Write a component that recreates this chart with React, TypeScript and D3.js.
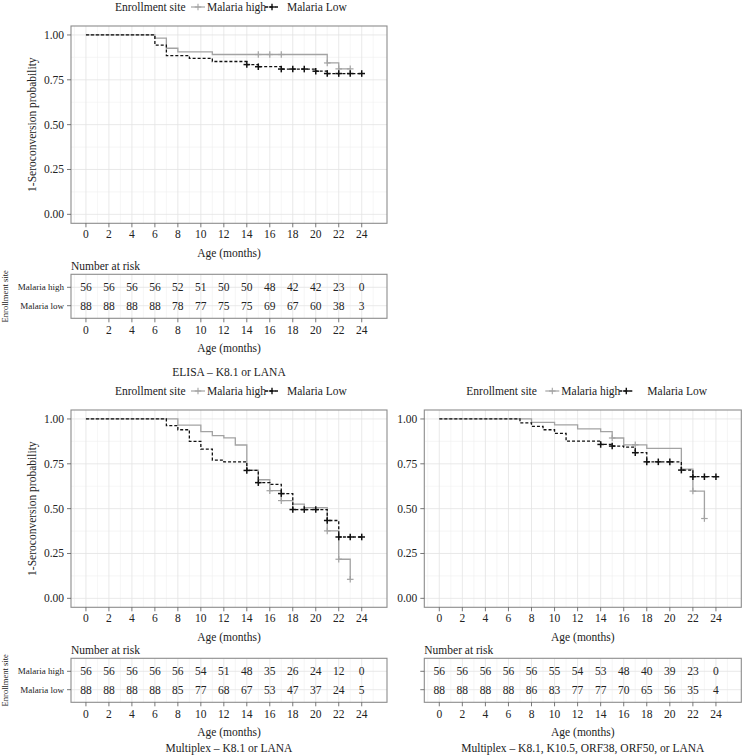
import React from "react";
import * as d3 from "d3";

// ---------- data ----------
const timeTicks = [0, 2, 4, 6, 8, 10, 12, 14, 16, 18, 20, 22, 24];
const survTicks = [0, 0.25, 0.5, 0.75, 1];
const groups = ["Malaria high", "Malaria low"];

// ELISA – K8.1 or LANA
const elisaHighTimes = [0, 6, 7, 8, 11, 21, 22, 23];
const elisaHighSurv = [1, 0.982, 0.926, 0.906, 0.891, 0.844, 0.811, 0.811];
const elisaHighCensor = [15, 16, 17, 21, 22, 23];
const elisaLowTimes = [0, 6, 7, 9, 11, 14, 15, 17, 20, 21, 24];
const elisaLowSurv = [1, 0.943, 0.885, 0.87, 0.852, 0.835, 0.823, 0.81, 0.798, 0.785, 0.785];
const elisaLowCensor = [14, 15, 17, 18, 19, 20, 21, 22, 23, 24];
const elisaRiskHigh = [56, 56, 56, 56, 52, 51, 50, 50, 48, 42, 42, 23, 0];
const elisaRiskLow = [88, 88, 88, 88, 78, 77, 75, 75, 69, 67, 60, 38, 3];

// Multiplex – K8.1 or LANA
const mk8HighTimes = [0, 8, 10, 11, 12, 13, 14, 15, 16, 17, 18, 19, 21, 22, 23];
const mk8HighSurv = [1, 0.966, 0.929, 0.907, 0.895, 0.855, 0.714, 0.661, 0.6, 0.545, 0.525, 0.506, 0.376, 0.218, 0.106];
const mk8HighCensor = [16, 17, 21, 22, 23];
const mk8LowTimes = [0, 7, 8, 9, 10, 11, 12, 14, 15, 16, 17, 18, 21, 22, 24];
const mk8LowSurv = [1, 0.963, 0.94, 0.875, 0.832, 0.771, 0.761, 0.713, 0.645, 0.635, 0.584, 0.495, 0.434, 0.342, 0.342];
const mk8LowCensor = [14, 15, 17, 18, 19, 20, 21, 22, 23, 24];
const mk8RiskHigh = [56, 56, 56, 56, 56, 54, 51, 48, 35, 26, 24, 12, 0];
const mk8RiskLow = [88, 88, 88, 88, 85, 77, 68, 67, 53, 47, 37, 24, 5];

// Multiplex – K8.1, K10.5, ORF38, ORF50, or LANA
const mAllHighTimes = [0, 8, 10, 12, 14, 15, 16, 18, 21, 22, 23];
const mAllHighSurv = [1, 0.981, 0.967, 0.945, 0.929, 0.894, 0.856, 0.836, 0.72, 0.598, 0.445];
const mAllHighCensor = [15, 17, 22, 23];
const mAllLowTimes = [0, 7, 8, 9, 10, 11, 14, 15, 16, 17, 18, 21, 22, 24];
const mAllLowSurv = [1, 0.978, 0.959, 0.94, 0.92, 0.876, 0.858, 0.849, 0.843, 0.812, 0.761, 0.715, 0.678, 0.678];
const mAllLowCensor = [14, 15, 17, 18, 19, 20, 21, 22, 23, 24];
const mAllRiskHigh = [56, 56, 56, 56, 56, 55, 54, 53, 48, 40, 39, 23, 0];
const mAllRiskLow = [88, 88, 88, 88, 86, 83, 77, 77, 70, 65, 56, 35, 4];

// ---------- styling ----------
const FONT = '"Liberation Serif", "DejaVu Serif", "Times New Roman", serif';
const GRAY = "#a3a3a3";
const BLACK = "#111";
const TXT = "#222";
const BORDER = "#8c8c8c";
const GRID_MAJOR = "#e3e3e3";
const GRID_MINOR = "#f0f0f0";

type Curve = { times: number[]; surv: number[]; censor: number[] };
type Legend = { title: number; grayKey: number; high: number; blackKey: number; low: number };

function survAt(c: Curve, t: number) {
  let s = c.surv[0];
  for (let i = 0; i < c.times.length; i++) if (c.times[i] <= t) s = c.surv[i];
  return s;
}

function Plus({ x, y, color, w }: { x: number; y: number; color: string; w: number }) {
  const h = 3.3;
  return (
    <g stroke={color} strokeWidth={w}>
      <line x1={x - h} x2={x + h} y1={y} y2={y} />
      <line x1={x} x2={x} y1={y - h} y2={y + h} />
    </g>
  );
}

function T(props: any) {
  const { children, style, ...rest } = props;
  return (
    <text {...rest} style={{ fontFamily: FONT, ...(style || {}) }}>
      {children}
    </text>
  );
}

function KMChart(props: {
  ox: number;
  oy: number;
  high: Curve;
  low: Curve;
  riskHigh: number[];
  riskLow: number[];
  caption: string;
  captionY: number;
  showLabels: boolean;
  plotRight: number;
  legend: Legend;
}) {
  const { ox, oy, high, low, riskHigh, riskLow, caption, captionY, showLabels, plotRight, legend } = props;
  const L = ox + 71;
  const R = ox + plotRight;
  const Tp = oy + 26;
  const B = oy + 223.3;
  const x = d3.scaleLinear().domain([-1.3, 26.2]).range([L, R]);
  const y = d3.scaleLinear().domain([-0.05, 1.05]).range([B, Tp]);
  const line = d3
    .line<[number, number]>()
    .x((d) => x(d[0]))
    .y((d) => y(d[1]))
    .curve(d3.curveStepAfter);
  const pts = (c: Curve) => c.times.map((t, i) => [t, c.surv[i]] as [number, number]);

  const xMinor = d3.range(-1, 26, 2);
  const yMinor = [0.125, 0.375, 0.625, 0.875];

  const tTop = oy + 274.3;
  const tBot = oy + 318.3;
  const ry = d3.scalePoint<string>().domain(groups).range([tTop + 13, tTop + 31.4]);
  const riskRows = [riskHigh, riskLow];

  const legY = oy + 7;
  const fmt = d3.format(".2f");
  const midX = (L + R) / 2;

  return (
    <g fill={TXT}>
      {/* legend */}
      <T x={ox + legend.title} y={legY} fontSize={11.5} dominantBaseline="central">Enrollment site</T>
      <line x1={ox + legend.grayKey - 7} x2={ox + legend.grayKey + 7} y1={legY} y2={legY} stroke={GRAY} strokeWidth={1.2} />
      <Plus x={ox + legend.grayKey} y={legY} color={GRAY} w={1.1} />
      <T x={ox + legend.high} y={legY} fontSize={11.5} dominantBaseline="central">Malaria high</T>
      <line x1={ox + legend.blackKey - 7} x2={ox + legend.blackKey + 7} y1={legY} y2={legY} stroke={BLACK} strokeWidth={1.3} strokeDasharray="3,2" />
      <Plus x={ox + legend.blackKey} y={legY} color={BLACK} w={1.4} />
      <T x={ox + legend.low} y={legY} fontSize={11.5} dominantBaseline="central">Malaria Low</T>

      {/* plot panel */}
      <rect x={L} y={Tp} width={R - L} height={B - Tp} fill="#fff" />
      {xMinor.map((t) => (
        <line key={"xm" + t} x1={x(t)} x2={x(t)} y1={Tp} y2={B} stroke={GRID_MINOR} strokeWidth={0.6} />
      ))}
      {yMinor.map((s) => (
        <line key={"ym" + s} x1={L} x2={R} y1={y(s)} y2={y(s)} stroke={GRID_MINOR} strokeWidth={0.6} />
      ))}
      {timeTicks.map((t) => (
        <line key={"xM" + t} x1={x(t)} x2={x(t)} y1={Tp} y2={B} stroke={GRID_MAJOR} strokeWidth={0.8} />
      ))}
      {survTicks.map((s) => (
        <line key={"yM" + s} x1={L} x2={R} y1={y(s)} y2={y(s)} stroke={GRID_MAJOR} strokeWidth={0.8} />
      ))}

      <path d={line(pts(high)) || ""} fill="none" stroke={GRAY} strokeWidth={1.3} />
      <path d={line(pts(low)) || ""} fill="none" stroke={BLACK} strokeWidth={1.3} strokeDasharray="3,2" />
      {high.censor.map((t) => (
        <Plus key={"hc" + t} x={x(t)} y={y(survAt(high, t))} color={GRAY} w={1.2} />
      ))}
      {low.censor.map((t) => (
        <Plus key={"lc" + t} x={x(t)} y={y(survAt(low, t))} color={BLACK} w={1.5} />
      ))}
      <rect x={L} y={Tp} width={R - L} height={B - Tp} fill="none" stroke={BORDER} strokeWidth={1.1} />

      {/* y axis */}
      {survTicks.map((s) => (
        <g key={"yt" + s}>
          <line x1={L - 4} x2={L} y1={y(s)} y2={y(s)} stroke="#555" strokeWidth={0.8} />
          <T x={L - 7} y={y(s)} fontSize={11.5} textAnchor="end" dominantBaseline="central">{fmt(s)}</T>
        </g>
      ))}
      {showLabels && (
        <T
          transform={`translate(${ox + 32},${(Tp + B) / 2}) rotate(-90)`}
          fontSize={11.5}
          textAnchor="middle"
          dominantBaseline="central"
        >
          1-Seroconversion probability
        </T>
      )}
      {/* x axis */}
      {timeTicks.map((t) => (
        <g key={"xt" + t}>
          <line x1={x(t)} x2={x(t)} y1={B} y2={B + 4} stroke="#555" strokeWidth={0.8} />
          <T x={x(t)} y={oy + 234} fontSize={11.5} textAnchor="middle" dominantBaseline="central">{t}</T>
        </g>
      ))}
      <T x={midX} y={oy + 253} fontSize={11.5} textAnchor="middle" dominantBaseline="central">Age (months)</T>

      {/* risk table */}
      <T x={L} y={oy + 266} fontSize={11.5} dominantBaseline="central">Number at risk</T>
      <rect x={L} y={tTop} width={R - L} height={tBot - tTop} fill="#fff" />
      {xMinor.map((t) => (
        <line key={"rxm" + t} x1={x(t)} x2={x(t)} y1={tTop} y2={tBot} stroke={GRID_MINOR} strokeWidth={0.6} />
      ))}
      {timeTicks.map((t) => (
        <line key={"rxM" + t} x1={x(t)} x2={x(t)} y1={tTop} y2={tBot} stroke={GRID_MAJOR} strokeWidth={0.8} />
      ))}
      {groups.map((g) => (
        <line key={"rg" + g} x1={L} x2={R} y1={ry(g)!} y2={ry(g)!} stroke={GRID_MAJOR} strokeWidth={0.8} />
      ))}
      {groups.map((g, gi) =>
        riskRows[gi].map((n, i) => (
          <T
            key={g + i}
            x={x(timeTicks[i])}
            y={ry(g)!}
            fontSize={11.5}
            textAnchor="middle"
            dominantBaseline="central"
          >
            {n}
          </T>
        ))
      )}
      <rect x={L} y={tTop} width={R - L} height={tBot - tTop} fill="none" stroke={BORDER} strokeWidth={1.1} />
      {groups.map((g) => (
        <g key={"rl" + g}>
          <line x1={L - 4} x2={L} y1={ry(g)!} y2={ry(g)!} stroke="#555" strokeWidth={0.8} />
          {showLabels && (
            <T x={L - 7} y={ry(g)!} fontSize={9} textAnchor="end" dominantBaseline="central">{g}</T>
          )}
        </g>
      ))}
      {showLabels && (
        <T
          transform={`translate(${ox + 5},${(tTop + tBot) / 2}) rotate(-90)`}
          fontSize={8.5}
          textAnchor="middle"
          dominantBaseline="central"
        >
          Enrollment site
        </T>
      )}
      {timeTicks.map((t) => (
        <g key={"rxt" + t}>
          <line x1={x(t)} x2={x(t)} y1={tBot} y2={tBot + 4} stroke="#555" strokeWidth={0.8} />
          <T x={x(t)} y={oy + 329.5} fontSize={11.5} textAnchor="middle" dominantBaseline="central">{t}</T>
        </g>
      ))}
      <T x={midX} y={oy + 347.5} fontSize={11.5} textAnchor="middle" dominantBaseline="central">Age (months)</T>
      <T x={midX} y={captionY} fontSize={11.5} textAnchor="middle" dominantBaseline="central">{caption}</T>
    </g>
  );
}

const leftLegend: Legend = { title: 115, grayKey: 198, high: 207, blackKey: 272, low: 287 };
const rightLegend: Legend = { title: 113, grayKey: 199, high: 208, blackKey: 273, low: 294 };

export default function App() {
  return (
    <svg
      width={742}
      height={756}
      style={{ position: "absolute", left: 0, top: 0, background: "#fff" }}
    >
      <KMChart
        ox={0}
        oy={0}
        high={{ times: elisaHighTimes, surv: elisaHighSurv, censor: elisaHighCensor }}
        low={{ times: elisaLowTimes, surv: elisaLowSurv, censor: elisaLowCensor }}
        riskHigh={elisaRiskHigh}
        riskLow={elisaRiskLow}
        caption="ELISA – K8.1 or LANA"
        captionY={372}
        showLabels={true}
        plotRight={387}
        legend={leftLegend}
      />
      <KMChart
        ox={0}
        oy={384}
        high={{ times: mk8HighTimes, surv: mk8HighSurv, censor: mk8HighCensor }}
        low={{ times: mk8LowTimes, surv: mk8LowSurv, censor: mk8LowCensor }}
        riskHigh={mk8RiskHigh}
        riskLow={mk8RiskLow}
        caption="Multiplex – K8.1 or LANA"
        captionY={748}
        showLabels={true}
        plotRight={387}
        legend={leftLegend}
      />
      <KMChart
        ox={353.3}
        oy={384}
        high={{ times: mAllHighTimes, surv: mAllHighSurv, censor: mAllHighCensor }}
        low={{ times: mAllLowTimes, surv: mAllLowSurv, censor: mAllLowCensor }}
        riskHigh={mAllRiskHigh}
        riskLow={mAllRiskLow}
        caption="Multiplex – K8.1, K10.5, ORF38, ORF50, or LANA"
        captionY={748}
        showLabels={false}
        plotRight={388}
        legend={rightLegend}
      />
    </svg>
  );
}
